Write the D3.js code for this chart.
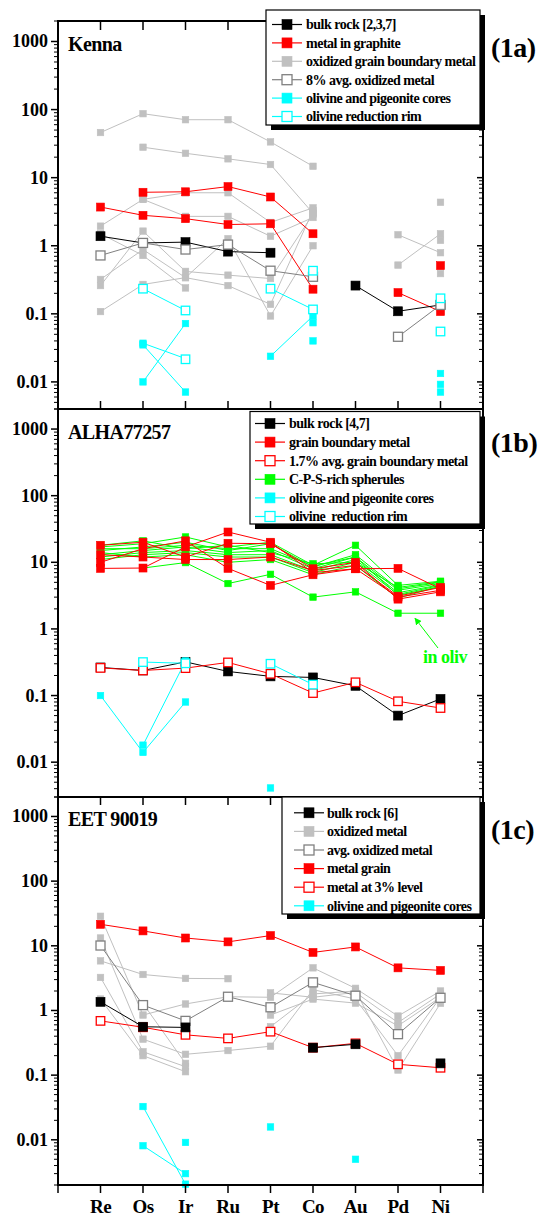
<!DOCTYPE html>
<html><head><meta charset="utf-8">
<script src="https://cdn.jsdelivr.net/npm/d3@7"></script>
<style>
body{margin:0;background:#fff;}
svg text{font-family:"Liberation Serif","Times New Roman",serif;font-weight:bold;white-space:pre;}
</style>
</head><body>
<svg id="chart" width="543" height="1217"></svg>
<script>
// ---------------- DATA ----------------
const categories = ["Re","Os","Ir","Ru","Pt","Co","Au","Pd","Ni"];
const yTickValues = [1000,100,10,1,0.1,0.01];
const yTickLabels = ["1000","100","10","1","0.1","0.01"];

// (1a) Kenna
const kennaBulk = [[1.38,1.1,1.13,0.82,0.79,null,0.26,0.109,0.135]];
const kennaMetalGraphite = [
  [null,6.1,6.2,7.4,5.2,1.5,null,null,0.51],
  [3.7,2.8,2.5,2.05,2.1,0.23,null,0.205,0.108]
];
const kennaOxidized = [
  [46,87,71,71,33.5,14.7,null,null,null],
  [null,28,22.8,18.9,15.6,3.0,null,null,null],
  [null,4.8,6.0,6.0,2.2,3.6,null,null,null],
  [1.94,4.8,2.7,2.7,1.38,2.6,null,null,null],
  [0.26,1.64,0.42,0.37,0.33,2.9,null,null,null],
  [0.32,0.88,0.34,1.27,0.093,1.0,null,null,null],
  [0.108,0.27,0.34,0.26,0.138,3.3,null,null,null],
  [1.5,0.72,0.24,null,null,null,null,null,null],
  [null,null,null,null,null,null,null,1.45,0.79],
  [null,null,null,null,null,null,null,0.52,1.5],
  [null,null,null,null,null,null,null,null,4.35],
  [null,null,null,null,null,null,null,null,1.2],
  [null,null,null,null,null,null,null,null,0.39]
];
const kennaAvgOxidized = [[0.72,1.1,0.88,1.04,0.43,0.35,null,0.046,0.135]];
const kennaCores = [
  [null,0.037,0.022,null,null,null,null,null,null],
  [null,0.035,0.0071,null,null,null,null,null,null],
  [null,null,null,null,0.0238,0.093,null,null,null],
  [null,0.010,0.072,null,null,0.074,null,null,0.0133],
  [null,null,null,null,null,0.040,null,null,0.0092],
  [null,null,null,null,null,null,null,null,0.0071]
];
const kennaRim = [
  [null,0.234,0.112,null,null,null,null,null,null],
  [null,null,null,null,0.234,0.116,null,null,null],
  [null,null,0.0215,null,null,0.43,null,null,0.169],
  [null,null,null,null,null,null,null,null,0.055]
];

// (1b) ALHA77257
const alhaBulk = [[0.264,0.238,0.32,0.23,0.194,0.187,0.14,0.05,0.089]];
const alhaMetal = [
  [8.1,8.2,17,28.5,20,7,8,8.1,4.0],
  [10,16,21,8.1,4.5,6.5,8,3.0,3.8],
  [13,12,11,11,12,7.5,9,3.1,4.2],
  [18,20,12,19.3,19,8,10,2.8,3.6]
];
const alhaAvgMetal = [[0.26,0.238,0.258,0.314,0.212,0.109,0.158,0.082,0.065]];
const alhaSpherules = [
  [17,19,24,17,20,9,18,4.5,5.2],
  [15,17,20,15,19,8.5,13,4.0,5.0],
  [13,15,17,14,15,8,12,3.8,4.8],
  [12,14,15,13,13,7.5,11,3.5,4.6],
  [11,13,14,12,12,7,10,3.3,4.5],
  [16,16,18,16,16,8.8,12,3.2,4.3],
  [18,21,16,18,14,9.5,10,4.2,5.1],
  [14,12,13,10,11,6.5,9,2.9,4.4],
  [null,8.2,9.9,4.8,6.6,3.0,3.6,1.72,1.72]
];
const alhaCores = [
  [0.1,0.014,0.08,null,null,null,null,null,null],
  [null,0.018,0.33,null,0.0041,null,null,null,null]
];
const alhaRim = [
  [null,0.318,0.305,null,null,null,null,null,null],
  [null,null,null,null,0.3,0.146,null,null,null]
];

// (1c) EET 90019
const eetBulk = [
  [1.36,0.56,0.547,null,null,0.266,0.30,null,null],
  [null,null,null,null,null,null,null,null,0.152]
];
const eetOxidized = [
  [5.85,3.6,3.13,3.1,null,null,null,null,null],
  [28.6,0.85,1.26,1.63,1.6,4.56,2.2,0.82,2.0],
  [13.2,0.36,0.21,0.24,0.28,2.1,1.5,0.2,1.6],
  [3.24,0.23,0.135,null,0.85,1.5,1.3,0.58,1.6],
  [1.5,0.2,0.113,null,0.56,1.8,2.0,0.12,1.29],
  [null,1.28,0.152,null,1.87,1.6,1.9,0.65,1.8]
];
const eetAvgOxidized = [[10.1,1.21,0.69,1.63,1.12,2.72,1.69,0.43,1.57]];
const eetMetalGrain = [[21.5,17,13.2,11.5,14.4,7.9,9.6,4.56,4.16]];
const eetMetal3 = [[0.69,0.55,0.42,0.37,0.47,0.266,0.31,0.147,0.13]];
const eetCores = [
  [null,0.0327,0.00206,null,null,null,null,null,null],
  [null,0.0081,0.003,null,null,null,null,null,null],
  [null,null,0.0091,null,0.0158,null,0.005,null,null]
];

const legendKenna = ["bulk rock [2,3,7]","metal in graphite","oxidized grain boundary metal","8% avg. oxidized metal","olivine and pigeonite cores","olivine reduction rim"];
const legendAlha = ["bulk rock [4,7]","grain boundary metal","1.7% avg. grain boundary metal","C-P-S-rich spherules","olivine and pigeonite cores","olivine  reduction rim"];
const legendEet = ["bulk rock [6]","oxidized metal","avg. oxidized metal","metal grain","metal at 3% level","olivine and pigeonite cores"];

// ---------------- STYLES ----------------
const ST = {
  black:{line:"#000",fill:"#000",stroke:"#000",size:9,lw:1},
  red:{line:"#ff0000",fill:"#ff0000",stroke:"#ff0000",size:8,lw:1},
  gray:{line:"#c0c0c0",fill:"#c0c0c0",stroke:"#c0c0c0",size:6.5,lw:1},
  grayOpen:{line:"#808080",fill:"#fff",stroke:"#808080",size:9,lw:1,open:true},
  cyan:{line:"#00ffff",fill:"#00ffff",stroke:"#00ffff",size:6.5,lw:1},
  cyanOpen:{line:"#00ffff",fill:"#fff",stroke:"#00ffff",size:8.5,lw:1,open:true},
  green:{line:"#00ff00",fill:"#00ff00",stroke:"#00ff00",size:6.5,lw:1},
  redOpen:{line:"#ff0000",fill:"#fff",stroke:"#ff0000",size:8.5,lw:1,open:true}
};

const svg = d3.select("#chart");
const X0 = 58, X1 = 483;
const x = d3.scaleLinear().domain([0,10]).range([X0,X1]);

const panels = [
  {top:21,bottom:409,domain:[0.004,2000],title:"Kenna",label:"(1a)",labelY:57,
   layers:[[kennaOxidized,"gray"],[kennaMetalGraphite,"red"],[kennaBulk,"black"],[kennaAvgOxidized,"grayOpen"],[kennaCores,"cyan"],[kennaRim,"cyanOpen"]],
   legend:{x:266,y:10,w:214,h:115,sx:272,tx:306,rows:legendKenna,styles:["black","red","gray","grayOpen","cyan","cyanOpen"],r0:24.5,dr:18.4}},
  {top:409,bottom:797,domain:[0.003,2000],title:"ALHA77257",label:"(1b)",labelY:452,
   layers:[[alhaSpherules,"green"],[alhaMetal,"red"],[alhaBulk,"black"],[alhaAvgMetal,"redOpen"],[alhaCores,"cyan"],[alhaRim,"cyanOpen"]],
   legend:{x:250,y:411.5,w:230,h:112.5,sx:255,tx:289,rows:legendAlha,styles:["black","red","redOpen","green","cyan","cyanOpen"],r0:423.5,dr:18.6}},
  {top:797,bottom:1185,domain:[0.002,2000],title:"EET 90019",label:"(1c)",labelY:839,
   layers:[[eetOxidized,"gray"],[eetAvgOxidized,"grayOpen"],[eetMetalGrain,"red"],[eetMetal3,"redOpen"],[eetCores,"cyan"],[eetBulk,"black"]],
   legend:{x:282,y:797,w:198,h:117,sx:294,tx:327,rows:legendEet,styles:["black","gray","grayOpen","red","redOpen","cyan"],r0:812.8,dr:18.6}}
];

function marker(g, cx, cy, st, size){
  const s = size || st.size;
  g.append("rect").attr("x",cx-s/2).attr("y",cy-s/2).attr("width",s).attr("height",s)
    .attr("fill",st.fill).attr("stroke",st.stroke).attr("stroke-width",st.open?1.3:0.6);
}

const dataLayer = svg.append("g");
const axisLayer = svg.append("g");
const tickLayer = svg.append("g");
const topLayer = svg.append("g");

panels.forEach((p,pi)=>{
  const y = d3.scaleLog().domain(p.domain).range([p.bottom,p.top]);
  p.y = y;
  const g = dataLayer.append("g");
  p.layers.forEach(([series,key])=>{
    const st = ST[key];
    series.forEach(vals=>{
      const line = d3.line().defined(d=>d!=null).x((d,i)=>x(i+1)).y(d=>y(d));
      g.append("path").attr("d",line(vals)).attr("fill","none").attr("stroke",st.line).attr("stroke-width",st.lw);
    });
    series.forEach(vals=>{
      vals.forEach((v,i)=>{ if(v!=null) marker(g,x(i+1),y(v),st); });
    });
  });

  const ax = axisLayer.append("g");
  const ticksAll = [];
  for(let e=-3;e<=3;e++){ for(let m=1;m<=9;m++){ const v=m*Math.pow(10,e); if(v>=p.domain[0]*0.999 && v<=p.domain[1]*1.001) ticksAll.push(v);} }
  ticksAll.forEach(v=>{
    const major = Math.abs(Math.log10(v)-Math.round(Math.log10(v)))<1e-6;
    const yy = y(v);
    ax.append("line").attr("x1",X0-(major?7:4)).attr("x2",X0).attr("y1",yy).attr("y2",yy).attr("stroke","#000").attr("stroke-width",major?1.5:1);
    ax.append("line").attr("x1",X1-(major?6:4)).attr("x2",X1).attr("y1",yy).attr("y2",yy).attr("stroke","#000").attr("stroke-width",major?1.5:1);
  });
  yTickValues.forEach((v,i)=>{
    if(v<p.domain[0]||v>p.domain[1]) return;
    ax.append("text").attr("x",48).attr("y",y(v)+6).attr("text-anchor","end").attr("font-size",18).text(yTickLabels[i]);
  });
  ax.append("line").attr("x1",X0).attr("x2",X0).attr("y1",p.top).attr("y2",p.bottom).attr("stroke","#000").attr("stroke-width",2);
  ax.append("line").attr("x1",X1).attr("x2",X1).attr("y1",p.top).attr("y2",p.bottom).attr("stroke","#000").attr("stroke-width",2);
  ax.append("line").attr("x1",X0-1).attr("x2",X1+1).attr("y1",p.top).attr("y2",p.top).attr("stroke","#000").attr("stroke-width",2);
  ax.append("line").attr("x1",X0-1).attr("x2",X1+1).attr("y1",p.bottom).attr("y2",p.bottom).attr("stroke","#000").attr("stroke-width",2);

  ax.append("text").attr("x",68).attr("y",y(1000)+10).attr("font-size",20).attr("letter-spacing",-0.6).text(p.title);
  ax.append("text").attr("x",491).attr("y",p.labelY).attr("font-size",28).attr("letter-spacing",-0.5).text(p.label);
});

// category ticks on borders and bottom axis
d3.range(1,10).forEach(i=>{
  tickLayer.append("line").attr("x1",x(i)).attr("x2",x(i)).attr("y1",21).attr("y2",30).attr("stroke","#000").attr("stroke-width",1.5);
  tickLayer.append("line").attr("x1",x(i)).attr("x2",x(i)).attr("y1",409).attr("y2",401).attr("stroke","#000").attr("stroke-width",1.5);
  tickLayer.append("line").attr("x1",x(i)).attr("x2",x(i)).attr("y1",797).attr("y2",805).attr("stroke","#000").attr("stroke-width",1.5);
});
d3.range(0,11).forEach(i=>{
  tickLayer.append("line").attr("x1",x(i)).attr("x2",x(i)).attr("y1",1185).attr("y2",1193).attr("stroke","#000").attr("stroke-width",1.5);
});
categories.forEach((c,i)=>{
  tickLayer.append("text").attr("x",x(i+1)).attr("y",1213).attr("text-anchor","middle").attr("font-size",19).attr("letter-spacing",-0.5).text(c);
});

// legends on top
panels.forEach(p=>{
  const L = p.legend;
  const lg = topLayer.append("g");
  lg.append("rect").attr("x",L.x+5).attr("y",L.y+5).attr("width",L.w).attr("height",L.h).attr("fill","#000");
  lg.append("rect").attr("x",L.x).attr("y",L.y).attr("width",L.w).attr("height",L.h).attr("fill","#fff").attr("stroke","#000").attr("stroke-width",1.2);
  L.rows.forEach((t,i)=>{
    const st = ST[L.styles[i]];
    const cy = L.r0 + i*L.dr;
    lg.append("line").attr("x1",L.sx).attr("x2",L.sx+30).attr("y1",cy).attr("y2",cy).attr("stroke",st.line).attr("stroke-width",1.2);
    marker(lg,L.sx+15,cy,st,10);
    lg.append("text").attr("x",L.tx).attr("y",cy+4.8).attr("font-size",14).attr("letter-spacing",-0.5).text(t);
  });
});

// "in oliv" annotation (panel 1b)
const yb = panels[1].y;
svg.append("defs").append("marker").attr("id","ah").attr("viewBox","0 0 10 10").attr("refX",9).attr("refY",5)
  .attr("markerWidth",7).attr("markerHeight",7).attr("orient","auto")
  .append("path").attr("d","M0,0 L10,5 L0,10 z").attr("fill","#00ff00");
topLayer.append("line").attr("x1",438).attr("y1",648).attr("x2",415).attr("y2",yb(1.72)+5)
  .attr("stroke","#00ff00").attr("stroke-width",1).attr("marker-end","url(#ah)");
topLayer.append("text").attr("x",423).attr("y",663).attr("font-size",18).attr("fill","#00ff00").attr("letter-spacing",-0.5).text("in oliv");
</script>
</body></html>
